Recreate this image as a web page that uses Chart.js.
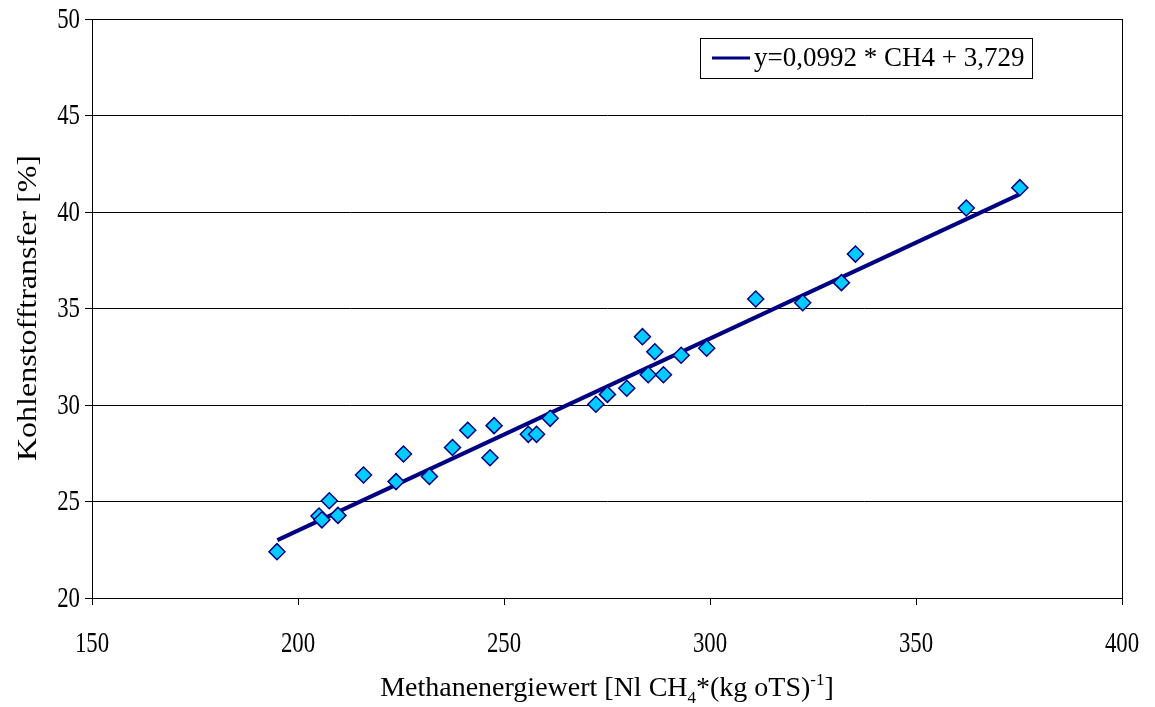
<!DOCTYPE html>
<html>
<head>
<meta charset="utf-8">
<script src="https://cdn.jsdelivr.net/npm/chart.js@4.4.0/dist/chart.umd.min.js"></script>
<style>
  html, body { margin: 0; padding: 0; background: #fff; }
  #wrap { width: 1155px; height: 707px; }
</style>
</head>
<body>
<div id="wrap"><canvas id="chart" width="1155" height="707"></canvas></div>
<script>
// Measured points (Methanenergiewert vs. Kohlenstofftransfer)
const methanValues = [194.9, 205.1, 205.8, 207.6, 209.7, 215.9, 223.8, 225.6, 231.9, 237.5,
                      241.2, 246.6, 247.6, 255.9, 257.9, 261.2, 272.3, 275.1, 279.8, 283.6,
                      285.0, 286.6, 288.7, 293.0, 299.2, 311.1, 322.5, 331.9, 335.3, 362.2, 375.2];
const carbonValues = [22.4, 24.25, 24.05, 25.04, 24.28, 26.37, 26.03, 27.46, 26.3, 27.8,
                      28.69, 27.27, 28.93, 28.48, 28.48, 29.31, 30.04, 30.55, 30.87, 33.54,
                      31.57, 32.76, 31.57, 32.58, 32.94, 35.49, 35.30, 36.34, 37.82, 40.21, 41.26];

// Trend line end points
const trendX = [195, 375];
const trendY = [23.0, 40.9];
const trendLabel = 'y=0,0992 * CH4 + 3,729';

// Axis ranges / ticks
const xMin = 150, xMax = 400, xStep = 50;
const yMin = 20, yMax = 50, yStep = 5;
const yTitle = 'Kohlenstofftransfer [%]';
const xTitleParts = ['Methanenergiewert [Nl CH', '4', '*(kg oTS)', '-1', ']'];

const FONT = '"Liberation Serif", "Times New Roman", serif';

const scatterData = methanValues.map((x, i) => ({ x: x, y: carbonValues[i] }));
const trendData = trendX.map((x, i) => ({ x: x, y: trendY[i] }));

// the tick text in the original is tall and narrow, so draw it squeezed
function squeezedText(ctx, text, x, y, size, sx, align) {
    ctx.save();
    ctx.font = size + 'px ' + FONT;
    const w = ctx.measureText(text).width * sx;
    let left = x;
    if (align === 'right') left = x - w;
    else if (align === 'center') left = x - w / 2;
    ctx.translate(left, y);
    ctx.scale(sx, 1);
    ctx.textAlign = 'left';
    ctx.textBaseline = 'middle';
    ctx.fillText(text, 0, 0);
    ctx.restore();
}

// frame, tick labels, axis titles and legend box
const extrasPlugin = {
    id: 'extras',
    afterDraw(chart) {
        const ctx = chart.ctx;
        const a = chart.chartArea;
        const xs = chart.scales.x, ys = chart.scales.y;
        ctx.save();
        ctx.strokeStyle = '#000';
        ctx.lineWidth = 1;
        ctx.strokeRect(Math.round(a.left) + 0.5, Math.round(a.top) + 0.5,
                       Math.round(a.right - a.left), Math.round(a.bottom - a.top));

        ctx.fillStyle = '#000';
        ys.ticks.forEach(t => {
            squeezedText(ctx, String(t.value), 80, ys.getPixelForValue(t.value) + 1, 30, 0.76, 'right');
        });
        xs.ticks.forEach(t => {
            squeezedText(ctx, String(t.value), xs.getPixelForValue(t.value), 644, 30, 0.76, 'center');
        });

        // y axis title
        ctx.save();
        ctx.translate(36, 308);
        ctx.rotate(-Math.PI / 2);
        ctx.font = '32px ' + FONT;
        ctx.textAlign = 'center';
        ctx.textBaseline = 'alphabetic';
        ctx.scale(1, 0.82);
        ctx.fillText(yTitle, 0, 0);
        ctx.restore();

        // x axis title with subscript and superscript
        const sizes = [28, 17, 28, 17, 28];
        const shifts = [0, 7, 0, -11, 0];
        const widths = xTitleParts.map((t, i) => { ctx.font = sizes[i] + 'px ' + FONT; return ctx.measureText(t).width; });
        const total = widths.reduce((s, w) => s + w, 0);
        let x = 607 - total / 2;
        ctx.textBaseline = 'alphabetic';
        ctx.textAlign = 'left';
        xTitleParts.forEach((t, i) => {
            ctx.font = sizes[i] + 'px ' + FONT;
            ctx.fillText(t, x, 696 + shifts[i]);
            x += widths[i];
        });

        // legend
        const ds = chart.data.datasets[1];
        const lx = 700, ly = 38, lw = 332, lh = 40;
        ctx.fillStyle = '#fff';
        ctx.fillRect(lx, ly, lw, lh);
        ctx.strokeStyle = '#000';
        ctx.lineWidth = 1;
        ctx.strokeRect(lx + 0.5, ly + 0.5, lw, lh);
        ctx.strokeStyle = ds.borderColor;
        ctx.lineWidth = 3;
        ctx.beginPath();
        ctx.moveTo(lx + 12, ly + 20);
        ctx.lineTo(lx + 50, ly + 20);
        ctx.stroke();
        ctx.fillStyle = '#000';
        ctx.font = '27px ' + FONT;
        ctx.textBaseline = 'middle';
        ctx.fillText(ds.label, lx + 54, ly + 21);
        ctx.restore();
    }
};

new Chart(document.getElementById('chart'), {
    type: 'scatter',
    data: {
        datasets: [{
            label: 'Messwerte',
            data: scatterData,
            pointStyle: 'rectRot',
            pointRadius: 8,
            pointHoverRadius: 8,
            backgroundColor: '#00CCFF',
            borderColor: '#000080',
            borderWidth: 1.5,
            order: 1
        }, {
            label: trendLabel,
            type: 'line',
            data: trendData,
            borderColor: '#000080',
            borderWidth: 4,
            pointRadius: 0,
            fill: false,
            order: 2
        }]
    },
    options: {
        responsive: false,
        animation: false,
        layout: { padding: { left: 0, top: 19, right: 33, bottom: 0 } },
        plugins: {
            legend: { display: false },
            tooltip: { enabled: false }
        },
        scales: {
            x: {
                type: 'linear',
                min: xMin, max: xMax,
                ticks: { stepSize: xStep, color: 'rgba(0,0,0,0)', font: { family: FONT, size: 12 }, padding: 22, maxRotation: 0 },
                grid: { display: true, drawOnChartArea: false, color: '#000', tickLength: 7, tickColor: '#000' },
                border: { color: '#000', width: 1 },
                afterFit(scale) { scale.height = 109; }
            },
            y: {
                type: 'linear',
                min: yMin, max: yMax,
                ticks: { stepSize: yStep, color: 'rgba(0,0,0,0)', font: { family: FONT, size: 12 }, padding: 5 },
                grid: { color: '#000', lineWidth: 1, tickLength: 7, tickColor: '#000' },
                border: { color: '#000', width: 1 },
                afterFit(scale) { scale.width = 92; }
            }
        }
    },
    plugins: [extrasPlugin]
});
</script>
</body>
</html>
